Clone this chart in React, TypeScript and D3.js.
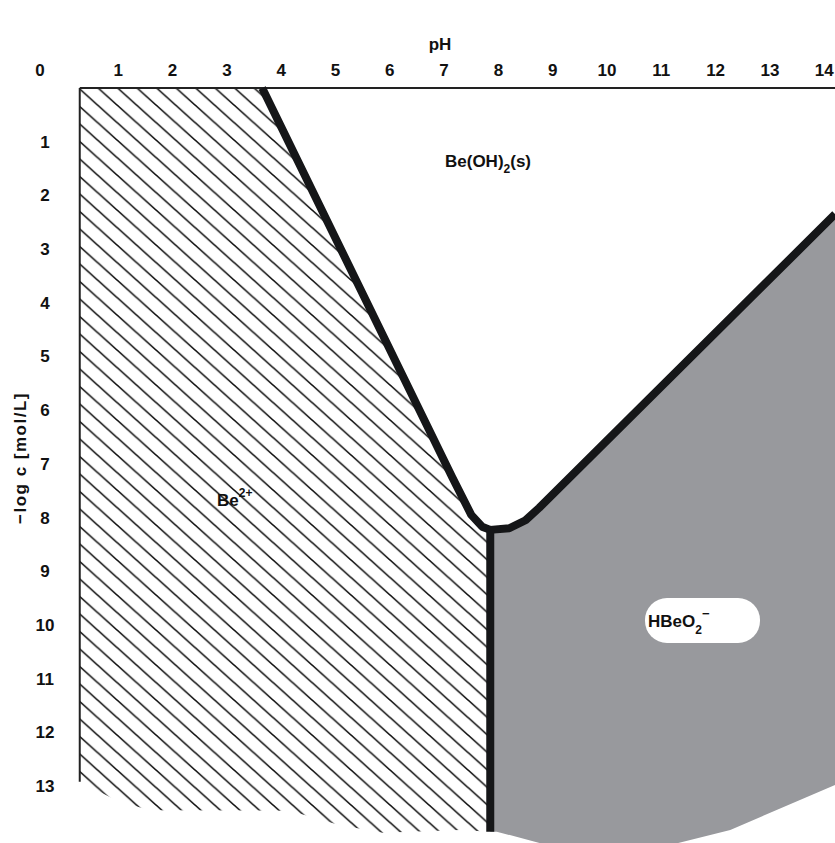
import React from "react";
import * as d3 from "d3";

const W = 835;
const H = 843;

// axis ticks
const xTicks = [1, 2, 3, 4, 5, 6, 7, 8, 9, 10, 11, 12, 13, 14];
const yTicks = [1, 2, 3, 4, 5, 6, 7, 8, 9, 10, 11, 12, 13];

// Be2+ / Be(OH)2(s) boundary
const leftPH = [3.65, 7.15, 7.5, 7.7, 7.85];
const leftLg = [0, 7.25, 7.95, 8.17, 8.23];

// Be(OH)2(s) / HBeO2- boundary
const rightPH = [7.85, 8.2, 8.5, 8.75, 14.2];
const rightLg = [8.23, 8.2, 8.05, 7.82, 2.35];

// Be2+ / HBeO2- boundary (vertical)
const vertPH = [7.85, 7.85];
const vertLg = [8.23, 13.85];

// ragged lower edges of the filled areas
const hatchBottomPH = [0.29, 0.99, 1.58, 4.16, 5.05, 5.87, 7.29, 7.85];
const hatchBottomLg = [12.92, 13.28, 13.45, 13.46, 13.72, 13.87, 13.82, 13.85];
const grayBottomPH = [14.2, 12.27, 11.16, 8.9, 7.97, 7.85];
const grayBottomLg = [12.98, 13.82, 14.1, 14.1, 13.85, 13.85];

const plotLeftPH = 0.29;

const x = d3.scaleLinear().domain([0, 14]).range([64, 824.2]);
const y = d3.scaleLinear().domain([0, 13]).range([88, 786]);

const zip = (a: number[], b: number[]) => a.map((v, i) => [v, b[i]] as [number, number]);

const line = d3
  .line<[number, number]>()
  .x((d) => x(d[0]))
  .y((d) => y(d[1]));

const FONT = "'Liberation Sans', Arial, sans-serif";

export default function App() {
  const left = zip(leftPH, leftLg);
  const right = zip(rightPH, rightLg);
  const vert = zip(vertPH, vertLg);
  const boundary = [...left, ...right.slice(1)];

  // hatched Be2+ field
  const hatchPoly: [number, number][] = [
    [plotLeftPH, 0],
    ...zip(hatchBottomPH, hatchBottomLg),
    ...left.slice().reverse(),
  ];
  // gray HBeO2- field
  const grayPoly: [number, number][] = [
    ...right,
    ...zip(grayBottomPH, grayBottomLg),
  ];

  const hw = 19.5;
  const hh = 17.5;
  const hatchPath = `M${-hw},${-hh}L${2 * hw},${2 * hh} M0,${-hh}L${3 * hw},${2 * hh} M${-2 * hw},${-hh}L${hw},${2 * hh}`;

  const x0 = x(plotLeftPH);

  return (
    <svg
      width={W}
      height={H}
      style={{ position: "absolute", left: 0, top: 0, background: "#fff" }}
      fontFamily={FONT}
    >
      <defs>
        <pattern id="hatch" patternUnits="userSpaceOnUse" width={hw} height={hh}>
          <path d={hatchPath} stroke="#111" strokeWidth={1.6} fill="none" />
        </pattern>
      </defs>

      <path d={line(hatchPoly) + "Z"} fill="url(#hatch)" />
      <path d={line(grayPoly) + "Z"} fill="#98999d" />

      {/* frame */}
      <line x1={x0} x2={W} y1={y(0)} y2={y(0)} stroke="#222" strokeWidth={2} />
      <line x1={x0} x2={x0} y1={y(0)} y2={y(12.92)} stroke="#222" strokeWidth={2} />

      {/* phase boundaries */}
      <path
        d={line(boundary) ?? ""}
        fill="none"
        stroke="#151618"
        strokeWidth={8}
        strokeLinejoin="round"
      />
      <path d={line(vert) ?? ""} fill="none" stroke="#151618" strokeWidth={8} />

      {/* axes labels */}
      <g fontSize={17} fontWeight="bold" textAnchor="middle" fill="#111">
        <text x={40} y={76}>0</text>
        {xTicks.map((t) => (
          <text key={"x" + t} x={x(t)} y={76}>
            {t}
          </text>
        ))}
        {yTicks.map((t) => (
          <text key={"y" + t} x={45} y={y(t) + 6}>
            {t}
          </text>
        ))}
      </g>
      <text x={440} y={50} fontSize={17} fontWeight="bold" textAnchor="middle" fill="#111">
        pH
      </text>
      <text
        transform={`translate(26,458) rotate(-90)`}
        fontSize={17}
        fontWeight="bold"
        textAnchor="middle"
        letterSpacing={1.5}
        fill="#111"
      >
        −log c [mol/L]
      </text>

      {/* field labels */}
      <text x={445} y={167} fontSize={17} fontWeight="bold" fill="#111">
        Be(OH)<tspan dy={6} fontSize={12}>2</tspan>
        <tspan dy={-6}>(s)</tspan>
      </text>
      <rect x={645} y={598} width={115} height={45} rx={22} fill="#fff" />
      <text x={217} y={506} fontSize={17} fontWeight="bold" fill="#111">
        Be<tspan dy={-9} fontSize={12}>2+</tspan>
      </text>
      <text x={648} y={627} fontSize={17} fontWeight="bold" fill="#111">
        HBeO<tspan dy={7} fontSize={12}>2</tspan>
        <tspan dy={-16} fontSize={13}>−</tspan>
      </text>
    </svg>
  );
}
